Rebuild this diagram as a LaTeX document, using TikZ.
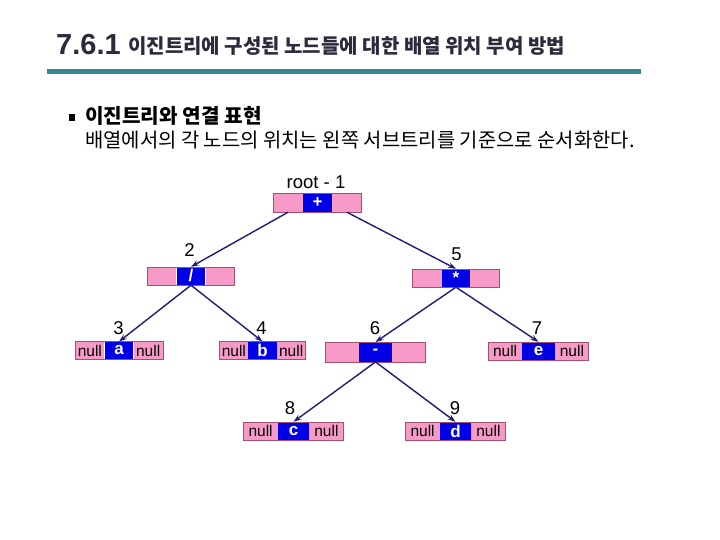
\documentclass[tikz,border=0pt]{standalone}
\usepackage{fontspec}
\setmainfont{Liberation Sans}
\newfontfamily\kr{Noto Sans CJK KR}
\usetikzlibrary{arrows.meta}
\definecolor{pinkc}{HTML}{F79AC8}
\definecolor{bluec}{HTML}{0000E6}
\definecolor{navyc}{HTML}{1E1E78}
\definecolor{tealc}{HTML}{3A8795}
\definecolor{bordc}{HTML}{A05070}
\definecolor{titc}{HTML}{2B2B3B}
\newcommand\tn[9]{%
  \node[bluebx, minimum width=#5pt, minimum height=#6pt] (#1) at (#2,#3) {#8};
  \node[pinkbx, minimum width=#4pt, minimum height=#6pt, anchor=east] (#1-l) at (#1.west) {#7};
  \node[pinkbx, minimum width=#4pt, minimum height=#6pt, anchor=west] (#1-r) at (#1.east) {#9};
  \draw[bordc, line width=0.6pt] (#1-l.north west) rectangle (#1-r.south east);
}
\begin{document}
\begin{tikzpicture}[x=1pt,y=-1pt,
  bluebx/.style={fill=bluec, inner sep=0pt, text=white, font=\fontsize{17}{17}\selectfont\bfseries},
  pinkbx/.style={fill=pinkc, inner sep=0pt, text=black, font=\fontsize{15.5}{15.5}\selectfont},
  lbl/.style={inner sep=0pt, font=\fontsize{18.5}{18.5}\selectfont},
  edge/.style={draw=navyc, line width=1.4pt, -{Stealth[length=8pt,width=5.5pt]}}]
\fill[white] (0,0) rectangle (720,540);
\useasboundingbox (0,0) rectangle (720,540);
% header
\node[anchor=base west, inner sep=0pt, text=titc, font=\fontsize{29}{30}\selectfont\bfseries] (tnum) at (56,55) {7.6.1};
\node[anchor=base west, inner sep=0pt, text=titc, font=\kr\fontsize{20}{22}\selectfont\bfseries] (tkr) at (128,54) {이진트리에 구성된 노드들에 대한 배열 위치 부여 방법};
\draw[tealc, line width=4.5pt] (47,71.5) -- (641,71.5);
\node[fill=black, minimum size=6.5pt, inner sep=0pt] (bul) at (72,117.5) {};
\node[anchor=base west, inner sep=0pt, font=\kr\fontsize{20.2}{22}\selectfont\bfseries] (sub1) at (85,124) {이진트리와 연결 표현};
\node[anchor=base west, inner sep=0pt, font=\kr\fontsize{19.9}{22}\selectfont] (sub2) at (85,148) {배열에서의 각 노드의 위치는 왼쪽 서브트리를 기준으로 순서화한다.};
% tree nodes
\tn{root}{317.5}{203}{29}{29}{18}{}{+}{}
\tn{n2}{191}{276}{28.5}{28.5}{18}{}{/}{}
\tn{n5}{456}{278}{29}{28}{18}{}{*}{}
\tn{a}{119}{350.5}{29}{28.5}{17.5}{null}{a}{null}
\tn{b}{262.5}{350.5}{28}{28.5}{17.5}{null}{b}{null}
\tn{n6}{375.5}{352}{33}{32.5}{19.5}{}{-}{}
\tn{e}{538.5}{351}{33}{33}{18}{null}{e}{null}
\tn{c}{293.5}{431}{34}{31}{18}{null}{c}{null}
\tn{d}{455.5}{431}{34}{31}{18}{null}{d}{null}
% labels
\node[lbl] (l1) at (316,182) {root - 1};
\node[lbl] (l2) at (189.5,250) {2};
\node[lbl] (l5) at (456.5,254) {5};
\node[lbl] (l3) at (118.5,328.5) {3};
\node[lbl] (l4) at (261.5,328.5) {4};
\node[lbl] (l6) at (375,328.5) {6};
\node[lbl] (l7) at (537,328.5) {7};
\node[lbl] (l8) at (290,408) {8};
\node[lbl] (l9) at (455,408) {9};
% edges
\draw[edge] (root-l.south) -- (n2.north);
\draw[edge] (root-r.south) -- (n5.north);
\draw[edge] (n2.south) -- (a.north);
\draw[edge] (n2.south) -- (b.north);
\draw[edge] (n5.south) -- (n6.north);
\draw[edge] (n5.south) -- (e.north);
\draw[edge] (n6.south) -- (c.north);
\draw[edge] (n6.south) -- (d.north);
\end{tikzpicture}
\end{document}
